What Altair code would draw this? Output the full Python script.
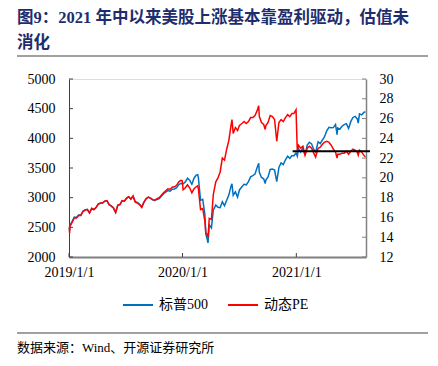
import altair as alt
import pandas as pd

# ---------------- data ----------------
dates = [
    "2019-01-02", "2019-01-03", "2019-01-04", "2019-01-11", "2019-01-18", "2019-01-25",
    "2019-02-01", "2019-02-08", "2019-02-15", "2019-02-22",
    "2019-03-01", "2019-03-08", "2019-03-15", "2019-03-22", "2019-03-29",
    "2019-04-05", "2019-04-12", "2019-04-18", "2019-04-26",
    "2019-05-03", "2019-05-10", "2019-05-17", "2019-05-24", "2019-05-31",
    "2019-06-07", "2019-06-14", "2019-06-21", "2019-06-28",
    "2019-07-05", "2019-07-12", "2019-07-19", "2019-07-26",
    "2019-08-02", "2019-08-09", "2019-08-16", "2019-08-23", "2019-08-30",
    "2019-09-06", "2019-09-13", "2019-09-20", "2019-09-27",
    "2019-10-04", "2019-10-11", "2019-10-18", "2019-10-25",
    "2019-11-01", "2019-11-08", "2019-11-15", "2019-11-22", "2019-11-29",
    "2019-12-06", "2019-12-13", "2019-12-20", "2019-12-27", "2019-12-31",
    "2020-01-03", "2020-01-10", "2020-01-17", "2020-01-24", "2020-01-31",
    "2020-02-07", "2020-02-14", "2020-02-19", "2020-02-21", "2020-02-28",
    "2020-03-06", "2020-03-13", "2020-03-16", "2020-03-20", "2020-03-23", "2020-03-27",
    "2020-04-03", "2020-04-09", "2020-04-17", "2020-04-24",
    "2020-05-01", "2020-05-08", "2020-05-15", "2020-05-22", "2020-05-29",
    "2020-06-05", "2020-06-08", "2020-06-12", "2020-06-19", "2020-06-26",
    "2020-07-02", "2020-07-10", "2020-07-17", "2020-07-24", "2020-07-31",
    "2020-08-07", "2020-08-14", "2020-08-21", "2020-08-28",
    "2020-09-02", "2020-09-04", "2020-09-11", "2020-09-18", "2020-09-23", "2020-09-25",
    "2020-10-02", "2020-10-09", "2020-10-16", "2020-10-23", "2020-10-30",
    "2020-11-06", "2020-11-13", "2020-11-20", "2020-11-27",
    "2020-12-04", "2020-12-11", "2020-12-18", "2020-12-24", "2020-12-31",
    "2021-01-04", "2021-01-08", "2021-01-15", "2021-01-22", "2021-01-29",
    "2021-02-05", "2021-02-12", "2021-02-19", "2021-02-26",
    "2021-03-04", "2021-03-12", "2021-03-19", "2021-03-26",
    "2021-04-01", "2021-04-09", "2021-04-16", "2021-04-23", "2021-04-30",
    "2021-05-07", "2021-05-12", "2021-05-14", "2021-05-21", "2021-05-28",
    "2021-06-04", "2021-06-11", "2021-06-18", "2021-06-25",
    "2021-07-02", "2021-07-09", "2021-07-16", "2021-07-19", "2021-07-23", "2021-07-30",
    "2021-08-06", "2021-08-11",
]

spx = [
    2510, 2448, 2532, 2596, 2671, 2665,
    2707, 2708, 2776, 2793,
    2804, 2743, 2822, 2801, 2834,
    2893, 2907, 2905, 2940,
    2946, 2881, 2860, 2826, 2752,
    2873, 2887, 2950, 2942,
    2990, 3014, 2977, 3026,
    2932, 2919, 2889, 2847, 2926,
    2979, 3007, 2992, 2962,
    2952, 2970, 2986, 3023,
    3067, 3093, 3120, 3110, 3141,
    3146, 3169, 3221, 3240, 3231,
    3235, 3265, 3330, 3295, 3226,
    3328, 3380, 3386, 3338, 2954,
    2972, 2711, 2386, 2305, 2237, 2541,
    2489, 2790, 2875, 2837,
    2831, 2930, 2864, 2955, 3044,
    3194, 3232, 3041, 3098, 3009,
    3130, 3185, 3225, 3216, 3271,
    3351, 3373, 3397, 3508,
    3580, 3427, 3341, 3319, 3237, 3298,
    3348, 3477, 3484, 3465, 3270,
    3510, 3585, 3558, 3638,
    3699, 3663, 3709, 3703, 3756,
    3701, 3825, 3768, 3841, 3714,
    3887, 3934, 3907, 3811,
    3768, 3943, 3913, 3975,
    4020, 4129, 4185, 4180, 4181,
    4233, 4063, 4174, 4156, 4204,
    4230, 4247, 4166, 4281,
    4352, 4370, 4327, 4258, 4412, 4395,
    4437, 4447,
]

pe = [
    14.9, 14.4, 15.1, 15.5, 15.95, 15.95,
    16.2, 16.2, 16.6, 16.75,
    16.8, 16.45, 16.9, 16.8, 17.0,
    17.35, 17.45, 17.45, 17.65,
    17.7, 17.3, 17.15, 16.95, 16.5,
    17.25, 17.3, 17.7, 17.65,
    17.95, 18.1, 17.85, 18.15,
    17.55, 17.45, 17.3, 17.0, 17.55,
    17.9, 18.05, 17.95, 17.8,
    17.75, 17.9, 18.0, 18.25,
    18.5, 18.7, 18.9, 18.85, 19.05,
    19.1, 19.25, 19.6, 19.75, 19.7,
    18.8, 19.0, 19.3, 19.0, 18.5,
    18.9, 19.1, 19.2, 18.9, 16.8,
    16.9, 15.6, 14.4, 14.3, 14.0, 15.9,
    15.8, 18.3, 19.6, 20.0,
    20.6, 22.0, 21.8, 22.9, 23.8,
    25.3, 25.9, 24.5, 25.1, 24.8,
    25.3, 25.5, 25.7, 25.5, 25.7,
    26.1, 26.1, 26.3, 26.8,
    27.3, 26.2, 25.6, 25.4, 24.9, 25.3,
    25.6, 26.3, 26.2, 25.9, 23.7,
    25.6, 25.9, 25.7, 26.1,
    26.4, 26.2, 26.5, 26.5, 26.9,
    22.8, 23.3, 23.0, 23.2, 22.3,
    23.0, 23.2, 23.0, 22.5,
    22.1, 23.0, 23.1, 23.4,
    23.6, 23.7, 23.6, 23.3, 22.9,
    22.6, 22.0, 22.4, 22.4, 22.5,
    22.5, 22.7, 22.4, 22.7,
    22.9, 22.8, 22.6, 22.3, 22.8, 22.6,
    22.3, 22.1,
]

series_names = ["标普500", "动态PE"]
left_ticks = [2000, 2500, 3000, 3500, 4000, 4500, 5000]
right_ticks = [12, 14, 16, 18, 20, 22, 24, 26, 28, 30]
x_tick_dates = ["2019-01-01", "2020-01-01", "2021-01-01"]
pe_ref_value = 22.7
pe_ref_start = "2020-12-20"
pe_ref_end = "2021-08-26"

title_line1 = "图9：2021 年中以来美股上涨基本靠盈利驱动，估值未"
title_line2 = "消化"
source_text = "数据来源：Wind、开源证券研究所"

assert len(dates) == len(spx) == len(pe)

# ---------------- styling ----------------
W, H = 297, 178
BLUE = "#0070C0"
RED = "#FF0000"
TITLE_COLOR = "#1e2d6e"
FONT = "'Liberation Serif', 'Noto Sans CJK SC'"

df = pd.DataFrame({"date": pd.to_datetime(dates), "spx": spx, "pe": pe})
df_spx = df.assign(series=series_names[0])
df_pe = df.assign(series=series_names[1])

def dt(s):
    y, m, d = (int(p) for p in s.split("-"))
    return alt.DateTime(year=y, month=m, date=d)

x_scale = alt.Scale(domain=[dt("2019-01-01"), dt("2021-08-13")])
x_axis = alt.Axis(
    values=[dt(s) for s in x_tick_dates], format="%Y/%-m/%-d", title=None,
    ticks=False, labelPadding=8, labelFont=FONT, labelFontSize=14,
    labelColor="#000", domainColor="#808080", domainWidth=2, grid=False,
    labelFlush=False, labelOverlap=False,
)
left_scale = alt.Scale(domain=[2000, 5000], nice=False)
left_axis = alt.Axis(
    values=left_ticks, format="d", title=None, ticks=False, labelPadding=14,
    labelFont=FONT, labelFontSize=14, labelColor="#000",
    domainColor="#404040", domainWidth=1, grid=False, orient="left",
    labelFlush=False, labelOverlap=False,
)
right_scale = alt.Scale(domain=[12, 30], nice=False)
right_axis = alt.Axis(
    values=right_ticks, format="d", title=None, ticks=False, labelPadding=13,
    labelFont=FONT, labelFontSize=14, labelColor="#000",
    domainColor="#808080", domainWidth=1.5, grid=False, orient="right",
    labelFlush=False, labelOverlap=False,
)

color = alt.Color(
    "series:N",
    scale=alt.Scale(domain=series_names, range=[BLUE, RED]),
    legend=alt.Legend(
        orient="none", legendX=53, legendY=210, direction="horizontal",
        title=None, symbolType="stroke", symbolSize=900, symbolStrokeWidth=2,
        labelFont=FONT, labelFontSize=14, labelColor="#000",
        labelOffset=5, columnPadding=16,
    ),
)

blue_line = alt.Chart(df_spx).mark_line(strokeWidth=1.5).encode(
    x=alt.X("date:T", scale=x_scale, axis=x_axis, title=None),
    y=alt.Y("spx:Q", scale=left_scale, axis=left_axis, title=None),
    color=color,
)

left_tick_marks = alt.Chart(pd.DataFrame({"spx": left_ticks})).mark_rule(
    color="#404040", strokeWidth=1
).encode(
    y=alt.Y("spx:Q", scale=left_scale, axis=left_axis, title=None),
    x=alt.value(0), x2=alt.value(4),
)

x_tick_marks = alt.Chart(pd.DataFrame({"date": pd.to_datetime(x_tick_dates)})).mark_rule(
    color="#404040", strokeWidth=1
).encode(
    x=alt.X("date:T", scale=x_scale, axis=x_axis, title=None),
    y=alt.value(H), y2=alt.value(H - 4),
)

red_line = alt.Chart(df_pe).mark_line(strokeWidth=1.5).encode(
    x=alt.X("date:T", scale=x_scale, axis=x_axis, title=None),
    y=alt.Y("pe:Q", scale=right_scale, axis=right_axis, title=None),
    color=color,
)

right_tick_marks = alt.Chart(pd.DataFrame({"pe": right_ticks})).mark_rule(
    color="#808080", strokeWidth=1
).encode(
    y=alt.Y("pe:Q", scale=right_scale, axis=right_axis, title=None),
    x=alt.value(W - 4), x2=alt.value(W),
)

ref_line = alt.Chart(pd.DataFrame({
    "date": pd.to_datetime([pe_ref_start]),
    "end": pd.to_datetime([pe_ref_end]),
    "pe": [pe_ref_value],
})).mark_rule(color="#000", strokeWidth=2).encode(
    x=alt.X("date:T", scale=x_scale, axis=x_axis, title=None),
    x2="end:T",
    y=alt.Y("pe:Q", scale=right_scale, axis=right_axis, title=None),
)

left_layer = alt.layer(blue_line, left_tick_marks, x_tick_marks)
right_layer = alt.layer(red_line, ref_line, right_tick_marks)

one = pd.DataFrame({"a": [0]})

def text_layer(txt, x, y, size, color="#000", weight="normal"):
    return alt.Chart(one).mark_text(
        align="left", baseline="middle", font=FONT, fontSize=size,
        fontWeight=weight, color=color,
    ).encode(x=alt.value(x), y=alt.value(y), text=alt.value(txt))

def sep_layer(y):
    return alt.Chart(one).mark_rule(color="#808080", strokeWidth=1.5).encode(
        x=alt.value(-52), x2=alt.value(359), y=alt.value(y)
    )

chart = alt.layer(
    left_layer,
    right_layer,
    text_layer(title_line1, -52, -61, 16.5, TITLE_COLOR, "bold"),
    text_layer(title_line2, -52, -36, 16.5, TITLE_COLOR, "bold"),
    sep_layer(-23),
    sep_layer(254),
    text_layer(source_text, -52, 269, 13),
).resolve_scale(y="independent").properties(
    width=W, height=H,
    autosize=alt.AutoSizeParams(type="none"),
    padding={"left": 61, "top": 71, "right": 64, "bottom": 101},
).configure_view(stroke=None).configure(background="white")

chart.save("out.html", embed_options={"renderer": "svg", "actions": False})
